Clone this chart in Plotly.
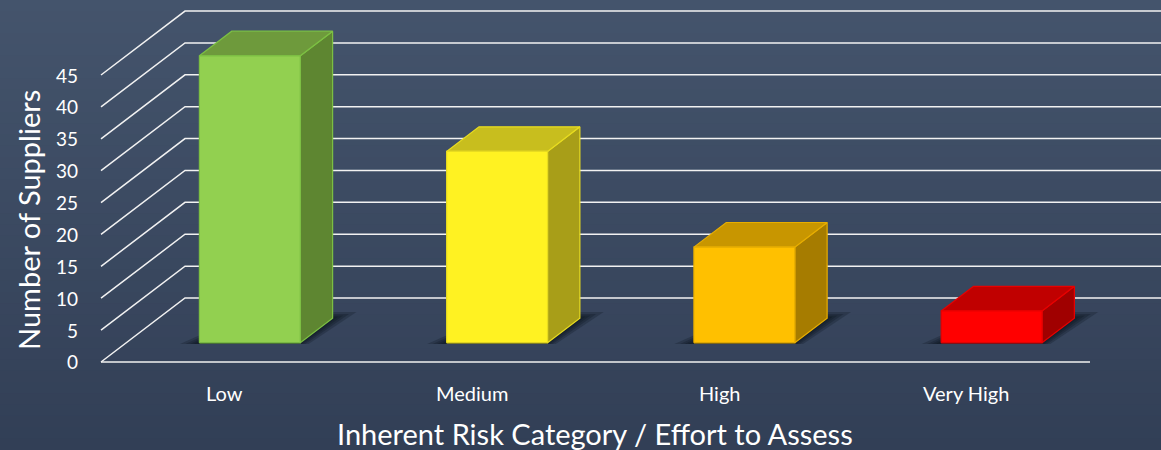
import plotly.graph_objects as go

# ---- data ----
categories = ["Low", "Medium", "High", "Very High"]
suppliers = [45, 30, 15, 5]
y_ticks = [0, 5, 10, 15, 20, 25, 30, 35, 40, 45]
front_colors = ["#92D050", "#FFF222", "#FFC000", "#FF0000"]
top_colors = ["#6E9A3C", "#C8BE1E", "#C89600", "#C00000"]
side_colors = ["#5E8631", "#A89E18", "#A67C00", "#A00000"]
edge_colors = ["#7CC043", "#E8DC20", "#E8AE00", "#E80000"]

W, H = 1161, 450
# oblique depth vector (data units) for the full floor depth
DX, DY = 0.3397, 10.03
F_DEPTH, B_DEPTH = 0.30, 0.685
HALF_W = 0.204

x_left, x_right = -0.9085, 3.787
y_bot, y_top = -13.80, 56.76

fig = go.Figure()

# background gradient
top_rgb = (68, 84, 108)
bot_rgb = (50, 63, 86)
N = 40
shapes = []
for i in range(N):
    t = i / (N - 1)
    c = tuple(int(round(top_rgb[k] + (bot_rgb[k] - top_rgb[k]) * t)) for k in range(3))
    shapes.append(dict(type="rect", xref="paper", yref="paper", x0=0, x1=1,
                       y0=1 - (i + 1) / N - 0.001, y1=1 - i / N + 0.001,
                       fillcolor="rgb(%d,%d,%d)" % c, line=dict(width=0), layer="below"))

# gridlines (left wall diagonals + back wall horizontals)
gx, gy = [], []
for v in y_ticks:
    gx += [-0.5, -0.5 + DX, x_right + 0.1, None]
    gy += [v, v + DY, v + DY, None]
gx += [-0.5, 3.5, None]
gy += [0, 0, None]
fig.add_trace(go.Scatter(x=gx, y=gy, mode="lines", line=dict(color="#F2F2F2", width=1.5),
                         hoverinfo="skip", showlegend=False))

def shift(p, d):
    return (p[0] + DX * d, p[1] + DY * d)

for i, (cat, v) in enumerate(zip(categories, suppliers)):
    x0, x1 = i - HALF_W, i + HALF_W
    yb, yt = 0.0, float(v)
    # shadow (soft, several layers)
    for k, e in enumerate([0.08, 0.055, 0.035, 0.018]):
        pts = [shift((x0 - e * 0.9, yb), F_DEPTH - 0.02), shift((x1 + e * 0.5, yb), F_DEPTH - 0.02),
               shift((x1 + e * 0.8, yb), B_DEPTH + e * 1.2), shift((x0 + 0.05, yb), B_DEPTH + e * 1.2)]
        fig.add_trace(go.Scatter(x=[p[0] for p in pts] + [pts[0][0]], y=[p[1] for p in pts] + [pts[0][1]],
                                 mode="lines", fill="toself", fillcolor="rgba(10,15,25,0.24)",
                                 line=dict(width=0), hoverinfo="skip", showlegend=False))
    # side face
    side = [shift((x1, yb), F_DEPTH), shift((x1, yb), B_DEPTH), shift((x1, yt), B_DEPTH), shift((x1, yt), F_DEPTH)]
    top = [shift((x0, yt), F_DEPTH), shift((x1, yt), F_DEPTH), shift((x1, yt), B_DEPTH), shift((x0, yt), B_DEPTH)]
    front = [shift((x0, yb), F_DEPTH), shift((x1, yb), F_DEPTH), shift((x1, yt), F_DEPTH), shift((x0, yt), F_DEPTH)]
    for poly, col in [(side, side_colors[i]), (top, top_colors[i]), (front, front_colors[i])]:
        fig.add_trace(go.Scatter(x=[p[0] for p in poly] + [poly[0][0]], y=[p[1] for p in poly] + [poly[0][1]],
                                 mode="lines", fill="toself", fillcolor=col,
                                 line=dict(color=edge_colors[i], width=1.2),
                                 hoverinfo="skip", showlegend=False, name=cat))

annotations = []
FONT = "Lato, 'Open Sans', sans-serif"
for v in y_ticks:
    annotations.append(dict(x=-0.5 - 0.085, y=v, xref="x", yref="y", text=str(v), showarrow=False,
                            xanchor="right", yanchor="middle", font=dict(family=FONT, size=19, color="white")))
for i, cat in enumerate(categories):
    annotations.append(dict(x=i, y=-4.9, xref="x", yref="y", text=cat, showarrow=False,
                            xanchor="center", yanchor="middle", font=dict(family=FONT, size=20, color="white")))
annotations.append(dict(x=595 / W, y=1 - 433 / H, xref="paper", yref="paper",
                        text="Inherent Risk Category / Effort to Assess", showarrow=False,
                        xanchor="center", yanchor="middle", font=dict(family=FONT, size=29, color="white")))
annotations.append(dict(x=28 / W, y=1 - 220 / H, xref="paper", yref="paper",
                        text="Number of Suppliers", showarrow=False, textangle=-90,
                        xanchor="center", yanchor="middle", font=dict(family=FONT, size=29, color="white")))

fig.update_layout(
    width=W, height=H, margin=dict(l=0, r=0, t=0, b=0),
    paper_bgcolor="#3C4A63", plot_bgcolor="rgba(0,0,0,0)",
    xaxis=dict(range=[x_left, x_right], visible=False, fixedrange=True),
    yaxis=dict(range=[y_bot, y_top], visible=False, fixedrange=True),
    shapes=shapes, annotations=annotations, showlegend=False,
)
fig.write_html("out.html")
